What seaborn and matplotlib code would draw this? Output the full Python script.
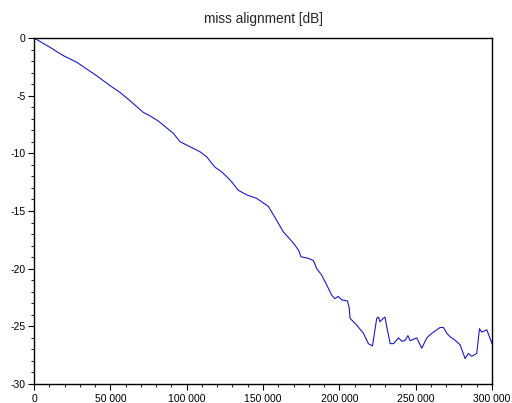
import matplotlib
matplotlib.use("Agg")
import matplotlib.pyplot as plt
import matplotlib.ticker as mticker
import seaborn as sns
import pandas as pd

title = "miss alignment [dB]"
x_vals = [0, 10500, 19200, 28000, 34500, 41000, 49800, 56300, 62900, 71600, 76000,
          81400, 84700, 91300, 95600, 102200, 108700, 113100, 118500, 122900,
          128400, 133800, 139300, 145800, 149100, 153500, 158000, 163300, 170000,
          173300, 174900, 179700, 183000, 185200, 188400, 191700, 195000, 197100,
          199300, 201500, 205300, 206500, 207000, 211400, 215800, 219000,
          221700, 224500, 225600, 226600, 228800, 229900, 231000, 233300, 235500,
          238800, 241000, 243200, 244900, 246400, 250700, 254000, 257300, 260600,
          263900, 266000, 268200, 270400, 272500, 275800, 279100, 282400, 284500,
          286800, 290000, 291800, 293300, 296600, 300000]
y_vals = [0.0, -0.81, -1.53, -2.1, -2.69, -3.27, -4.13, -4.71, -5.44, -6.45, -6.75,
          -7.2, -7.55, -8.27, -8.99, -9.43, -9.86, -10.3, -11.2, -11.6,
          -12.3, -13.2, -13.6, -13.9, -14.2, -14.6, -15.6, -16.8, -17.8,
          -18.4, -18.97, -19.1, -19.3, -20.0, -20.55, -21.4, -22.3, -22.6,
          -22.4, -22.7, -22.8, -23.4, -24.3, -24.9, -25.6, -26.5,
          -26.7, -24.3, -24.2, -24.6, -24.3, -24.2, -25.0, -26.5, -26.5,
          -26.0, -26.3, -26.2, -25.8, -26.25, -26.0, -26.9, -26.0, -25.6,
          -25.3, -25.1, -25.1, -25.6, -25.9, -26.2, -26.6, -27.8, -27.35,
          -27.6, -27.35, -25.2, -25.5, -25.3, -26.5]
x_ticks = [0, 50000, 100000, 150000, 200000, 250000, 300000]
y_ticks = [0, -5, -10, -15, -20, -25, -30]

sns.set_style("white")
plt.rcParams['font.family'] = ['Liberation Sans', 'DejaVu Sans']
plt.rcParams['axes.unicode_minus'] = False

df = pd.DataFrame({"x": x_vals, "y": y_vals})
fig = plt.figure(figsize=(5.12, 4.03), dpi=100)
ax = fig.add_axes([34/512, 1-384/403, 458/512, 346/403])
sns.lineplot(data=df, x="x", y="y", ax=ax, color="#1a1acc", linewidth=0.8)

ax.set_xlim(0, 300000)
ax.set_ylim(-30, 0)
ax.set_xticks(x_ticks)
ax.set_yticks(y_ticks)
ax.xaxis.set_minor_locator(mticker.MultipleLocator(10000))
ax.yaxis.set_minor_locator(mticker.MultipleLocator(1))
ax.xaxis.set_major_formatter(mticker.FuncFormatter(lambda v, p: f"{int(v):,}".replace(",", " ")))
ax.yaxis.set_major_formatter(mticker.FuncFormatter(lambda v, p: f"{int(v)}"))
ax.tick_params(axis="both", which="major", direction="out", length=4, width=0.8,
               labelsize=7.5, colors="black", left=True, bottom=True, pad=2)
ax.tick_params(axis="x", which="major", pad=3)
ax.tick_params(axis="both", which="minor", direction="out", length=2.5, width=0.8,
               left=True, bottom=True)
for s in ax.spines.values():
    s.set_color("black")
    s.set_linewidth(1.0)
ax.set_xlabel("")
ax.set_ylabel("")
fig.text(263/512, 1-19/403, title, ha="center", va="center", fontsize=9.8)
fig.savefig("out.png", dpi=100, facecolor="white")
